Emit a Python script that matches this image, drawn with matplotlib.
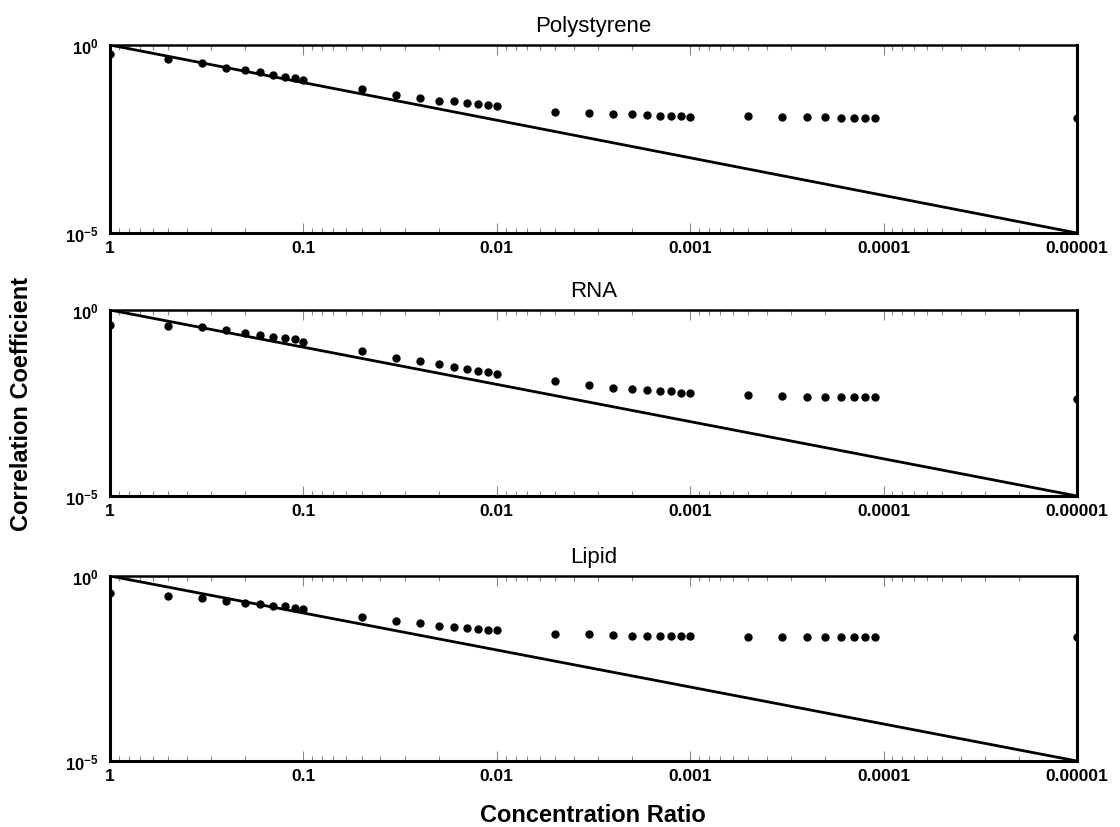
import matplotlib
matplotlib.use("Agg")
import matplotlib.pyplot as plt
from matplotlib.ticker import FixedLocator, NullFormatter, LogLocator

plt.rcParams['font.family'] = ['Liberation Sans', 'DejaVu Sans']
plt.rcParams['mathtext.fontset'] = 'custom'
plt.rcParams['mathtext.rm'] = 'Liberation Sans'
plt.rcParams['mathtext.bf'] = 'Liberation Sans:bold'

# Concentration ratios (1/dilution) of the measured points
concentration = [1, 0.5, 0.3333, 0.25, 0.2, 0.1667, 0.1429, 0.125, 0.1111, 0.1,
                 0.05, 0.03333, 0.025, 0.02, 0.01667, 0.01429, 0.0125, 0.01111, 0.01,
                 0.005, 0.003333, 0.0025, 0.002, 0.001667, 0.001429, 0.00125, 0.001111, 0.001,
                 0.0005, 0.0003333, 0.00025, 0.0002, 0.0001667, 0.0001429, 0.000125, 0.0001111,
                 0.00001]

polystyrene = [0.562, 0.417, 0.324, 0.251, 0.219, 0.191, 0.158, 0.145, 0.129, 0.120,
               0.0692, 0.0468, 0.0398, 0.0331, 0.0316, 0.0282, 0.0263, 0.0251, 0.0240,
               0.0170, 0.0155, 0.0145, 0.0145, 0.0135, 0.0132, 0.0129, 0.0126, 0.0123,
               0.0126, 0.0123, 0.0120, 0.0120, 0.0117, 0.0117, 0.0117, 0.0117,
               0.0117]

rna = [0.398, 0.380, 0.339, 0.282, 0.245, 0.209, 0.191, 0.174, 0.170, 0.141,
       0.0813, 0.0513, 0.0417, 0.0347, 0.0288, 0.0257, 0.0229, 0.0214, 0.0186,
       0.0120, 0.00955, 0.00813, 0.00741, 0.00692, 0.00661, 0.00661, 0.00603, 0.00589,
       0.00513, 0.00490, 0.00468, 0.00468, 0.00468, 0.00468, 0.00468, 0.00468,
       0.00417]

lipid = [0.339, 0.282, 0.254, 0.209, 0.186, 0.174, 0.155, 0.151, 0.135, 0.126,
         0.0776, 0.0603, 0.0525, 0.0447, 0.0427, 0.0389, 0.0380, 0.0355, 0.0339,
         0.0275, 0.0263, 0.0251, 0.0234, 0.0234, 0.0234, 0.0234, 0.0234, 0.0234,
         0.0224, 0.0224, 0.0224, 0.0224, 0.0224, 0.0224, 0.0224, 0.0224,
         0.0219]

ideal_x = [1, 0.00001]
ideal_y = [1, 0.00001]

panel_titles = ["Polystyrene", "RNA", "Lipid"]
panel_data = [polystyrene, rna, lipid]

x_ticks = [1, 0.1, 0.01, 0.001, 0.0001, 0.00001]
x_tick_labels = ["1", "0.1", "0.01", "0.001", "0.0001", "0.00001"]
y_ticks = [0.00001, 1]
y_tick_labels = [r"$\mathbf{10^{-5}}$", r"$\mathbf{10^{0}}$"]

fig = plt.figure(figsize=(11.2, 8.28), dpi=100)

W, H = 1120, 828
left, right = 110, 1077
panels_px = [(46, 234), (311, 497), (577, 762)]

for (top, bottom), title, data in zip(panels_px, panel_titles, panel_data):
    ax = fig.add_axes([left / W, 1 - bottom / H, (right - left) / W, (bottom - top) / H])
    ax.set_xscale('log')
    ax.set_yscale('log')
    ax.plot(ideal_x, ideal_y, color='black', lw=2.0, solid_capstyle='butt')
    ax.plot(concentration, data, linestyle='none', marker='o', ms=5,
            color='black', clip_on=True)
    ax.set_xlim(1, 0.00001)
    ax.set_ylim(0.00001, 1)

    ax.xaxis.set_major_locator(FixedLocator(x_ticks))
    ax.set_xticklabels(x_tick_labels, fontsize=12.5, fontweight='bold')
    ax.xaxis.set_minor_locator(LogLocator(base=10, subs=range(2, 10), numticks=20))
    ax.xaxis.set_minor_formatter(NullFormatter())
    ax.tick_params(axis='x', which='major', direction='in', length=7, width=0.8,
                   color='#888888', top=True, bottom=True, pad=5)
    ax.tick_params(axis='x', which='minor', direction='in', length=3.5, width=0.8,
                   color='#888888', top=True, bottom=True)

    ax.yaxis.set_major_locator(FixedLocator(y_ticks))
    ax.set_yticklabels(y_tick_labels, fontsize=12)
    ax.yaxis.set_minor_locator(FixedLocator([]))
    ax.tick_params(axis='y', which='major', length=0, pad=8)

    for side in ['left', 'bottom', 'right']:
        ax.spines[side].set_linewidth(2.2)
    ax.spines['top'].set_linewidth(1.8)

    ax.set_title(title, fontsize=16, pad=10)

fig.text(22 / W, 1 - 404 / H, "Correlation Coefficient", rotation=90,
         fontsize=17, fontweight='bold', ha='center', va='center')
fig.text(593 / W, 1 - 816 / H, "Concentration Ratio", fontsize=17,
         fontweight='bold', ha='center', va='center')

fig.savefig("out.png", dpi=100)
